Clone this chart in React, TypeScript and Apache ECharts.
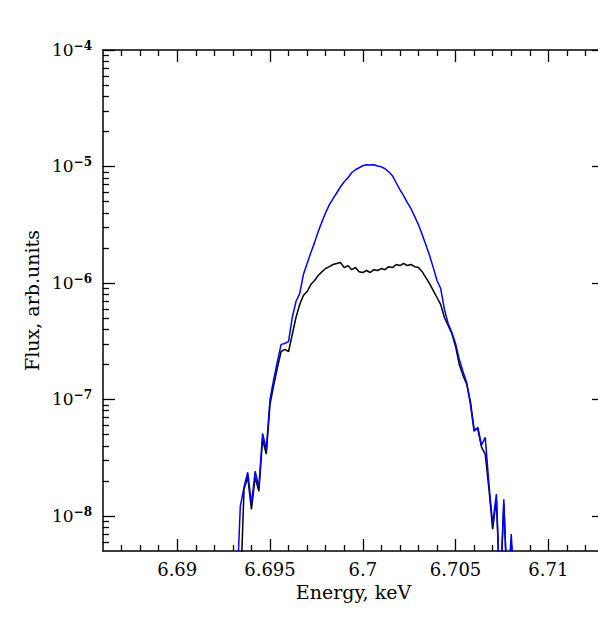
import React, { useEffect, useRef } from 'react';
import * as echarts from 'echarts';

const energies = [
  6.6932, 6.6934, 6.6936, 6.6938, 6.694, 6.6942, 6.6944, 6.6946, 6.6948, 6.695,
  6.6952, 6.6954, 6.6956, 6.6958, 6.696, 6.6962, 6.6964, 6.6966, 6.6968, 6.697,
  6.6972, 6.6974, 6.6976, 6.6978, 6.698, 6.6982, 6.6984, 6.6986, 6.6988, 6.699,
  6.6992, 6.6994, 6.6996, 6.6998, 6.7, 6.7002, 6.7004, 6.7006, 6.7008, 6.701,
  6.7012, 6.7014, 6.7016, 6.7018, 6.702, 6.7022, 6.7024, 6.7026, 6.7028, 6.703,
  6.7032, 6.7034, 6.7036, 6.7038, 6.704, 6.7042, 6.7044, 6.7046, 6.7048, 6.705,
  6.7052, 6.7054, 6.7056, 6.7058, 6.706, 6.7062, 6.7064, 6.7066, 6.7068, 6.707,
  6.7072, 6.7074, 6.7076, 6.7078, 6.708, 6.7082,
];

const fluxBlue = [
  2e-9, 1.21e-8, 1.77e-8, 2.37e-8, 1.26e-8, 2.42e-8, 1.77e-8, 5.12e-8, 3.74e-8, 1.0e-7,
  1.49e-7, 2.12e-7, 2.97e-7, 3.02e-7, 3.15e-7, 5.05e-7, 6.93e-7, 8.11e-7, 1.18e-6, 1.47e-6,
  1.82e-6, 2.22e-6, 2.76e-6, 3.36e-6, 4.01e-6, 4.70e-6, 5.29e-6, 5.95e-6, 6.70e-6, 7.39e-6,
  8.00e-6, 8.83e-6, 9.37e-6, 9.75e-6, 1.014e-5, 1.034e-5, 1.03e-5, 1.035e-5, 1.01e-5, 9.94e-6,
  9.56e-6, 9.01e-6, 8.32e-6, 7.25e-6, 6.32e-6, 5.61e-6, 4.89e-6, 4.34e-6, 3.71e-6, 3.17e-6,
  2.60e-6, 2.13e-6, 1.72e-6, 1.355e-6, 1.05e-6, 8.96e-7, 5.92e-7, 4.49e-7, 3.76e-7, 3.02e-7,
  2.21e-7, 1.74e-7, 1.40e-7, 9.08e-8, 5.33e-8, 5.77e-8, 4.04e-8, 4.73e-8, 1.87e-8, 8.51e-9,
  1.54e-8, 2e-9, 1.39e-8, 2e-9, 6.98e-9, 2e-9,
];

const fluxBlack = [
  2e-9, 2e-9, 1.70e-8, 2.15e-8, 1.14e-8, 2.15e-8, 1.63e-8, 4.55e-8, 3.39e-8, 9.08e-8,
  1.32e-7, 1.88e-7, 2.58e-7, 2.69e-7, 2.58e-7, 3.61e-7, 5.05e-7, 6.53e-7, 7.80e-7, 8.44e-7,
  9.69e-7, 1.05e-6, 1.16e-6, 1.25e-6, 1.33e-6, 1.38e-6, 1.44e-6, 1.47e-6, 1.50e-6, 1.355e-6,
  1.41e-6, 1.30e-6, 1.355e-6, 1.25e-6, 1.23e-6, 1.28e-6, 1.23e-6, 1.30e-6, 1.28e-6, 1.33e-6,
  1.30e-6, 1.38e-6, 1.355e-6, 1.44e-6, 1.41e-6, 1.47e-6, 1.41e-6, 1.44e-6, 1.38e-6, 1.355e-6,
  1.25e-6, 1.11e-6, 9.88e-7, 8.61e-7, 7.50e-7, 6.53e-7, 5.05e-7, 4.31e-7, 3.68e-7, 2.85e-7,
  2.00e-7, 1.61e-7, 1.35e-7, 9.63e-8, 5.54e-8, 5.54e-8, 3.89e-8, 3.39e-8, 1.70e-8, 7.71e-9,
  1.39e-8, 2e-9, 1.26e-8, 2e-9, 2e-9, 2e-9,
];

const xMajorTicks = [6.69, 6.695, 6.7, 6.705, 6.71];
const xTickLabels = ['6.69', '6.695', '6.7', '6.705', '6.71'];
const yMajorTicks = [1e-8, 1e-7, 1e-6, 1e-5, 1e-4];
const yTickExponents = ['\u22128', '\u22127', '\u22126', '\u22125', '\u22124'];

const X_MIN = 6.686;
const X_MAX = 6.713;
const Y_MIN = 5e-9;
const Y_MAX = 1e-4;

const FONT = "'DejaVu Serif', serif";

function buildXMinor(): number[] {
  const out: number[] = [];
  for (let i = 687; i <= 713; i++) {
    if (i % 5 === 0) continue;
    out.push(Math.round((6 + i / 1000) * 1e6) / 1e6);
  }
  return out;
}

function buildYMinor(): number[] {
  const out: number[] = [];
  for (let e = -9; e <= -5; e++) {
    for (let m = 2; m <= 9; m++) {
      const v = m * Math.pow(10, e);
      if (v > Y_MIN && v < Y_MAX) out.push(Number(v.toPrecision(3)));
    }
  }
  return out;
}

export default function App() {
  const ref = useRef<HTMLDivElement>(null);

  useEffect(() => {
    if (!ref.current) return;
    document.body.style.overflow = 'hidden';
    const chart = echarts.init(ref.current, undefined, { renderer: 'svg' });
    const xMinor = buildXMinor();
    const yMinor = buildYMinor();
    const lineCol = '#000';
    const gridBox = { left: 103, top: 50, width: 501, height: 501 };

    const xLabelFmt = (v: number) => {
      const i = xMajorTicks.findIndex((t) => Math.abs(t - v) < 1e-7);
      return i >= 0 ? xTickLabels[i] : '';
    };
    const yLabelFmt = (v: number) => {
      const e = Math.round(Math.log10(v));
      const i = yMajorTicks.findIndex((t) => Math.round(Math.log10(t)) === e);
      return i >= 0 ? `{b|10}{e|${yTickExponents[i]}}` : '';
    };

    const baseX = (grid: number, pos: 'top' | 'bottom', ticks: number[], len: number, labels: boolean, line: boolean) => ({
      gridIndex: grid,
      type: 'value',
      position: pos,
      min: X_MIN,
      max: X_MAX,
      axisLine: { show: line, onZero: false, lineStyle: { color: lineCol, width: 1.5 } },
      axisTick: { show: true, inside: true, length: len, customValues: ticks, lineStyle: { color: lineCol, width: 1.3 } },
      axisLabel: labels
        ? { show: true, customValues: xMajorTicks, formatter: xLabelFmt, color: '#000', fontFamily: FONT, fontSize: 18, margin: 9 }
        : { show: false },
      splitLine: { show: false },
    });

    const baseY = (grid: number, pos: 'left' | 'right', ticks: number[], len: number, labels: boolean, line: boolean) => ({
      gridIndex: grid,
      type: 'log',
      logBase: 10,
      position: pos,
      min: Y_MIN,
      max: Y_MAX,
      axisLine: { show: line, onZero: false, lineStyle: { color: lineCol, width: 1.5 } },
      axisTick: { show: true, inside: true, length: len, customValues: ticks, lineStyle: { color: lineCol, width: 1.3 } },
      axisLabel: labels
        ? {
            show: true,
            customValues: yMajorTicks,
            formatter: yLabelFmt,
            margin: 11,
            rich: {
              b: { fontFamily: FONT, fontSize: 17, color: '#000', lineHeight: 20 },
              e: { fontFamily: FONT, fontSize: 12, fontWeight: 'bold', color: '#000', verticalAlign: 'top', lineHeight: 12 },
            },
          }
        : { show: false },
      splitLine: { show: false },
    });

    const xMain: any = baseX(0, 'bottom', xMajorTicks, 12, true, true);
    xMain.name = 'Energy, keV';
    xMain.nameLocation = 'middle';
    xMain.nameGap = 31;
    xMain.nameTextStyle = { fontFamily: FONT, fontSize: 19, color: '#000' };

    const yMain: any = baseY(0, 'left', yMajorTicks, 12, true, true);
    yMain.name = 'Flux, arb.units';
    yMain.nameLocation = 'middle';
    yMain.nameGap = 59;
    yMain.nameTextStyle = { fontFamily: FONT, fontSize: 19, color: '#000' };

    const blueData = energies.map((e, i) => [e, fluxBlue[i]]);
    const blackData = energies.map((e, i) => [e, fluxBlack[i]]);

    chart.setOption({
      animation: false,
      backgroundColor: '#ffffff',
      grid: [{ ...gridBox }, { ...gridBox }],
      xAxis: [
        xMain,
        baseX(0, 'top', xMajorTicks, 12, false, true),
        baseX(1, 'bottom', xMinor, 6, false, false),
        baseX(1, 'top', xMinor, 6, false, false),
      ],
      yAxis: [
        yMain,
        baseY(0, 'right', yMajorTicks, 12, false, true),
        baseY(1, 'left', yMinor, 6, false, false),
        baseY(1, 'right', yMinor, 6, false, false),
      ],
      series: [
        {
          type: 'line',
          name: 'black',
          xAxisIndex: 0,
          yAxisIndex: 0,
          data: blackData,
          showSymbol: false,
          symbol: 'none',
          clip: true,
          lineStyle: { color: '#000000', width: 1.5 },
          silent: true,
        },
        {
          type: 'line',
          name: 'blue',
          xAxisIndex: 0,
          yAxisIndex: 0,
          data: blueData,
          showSymbol: false,
          symbol: 'none',
          clip: true,
          lineStyle: { color: '#0000ff', width: 1.5 },
          silent: true,
        },
      ],
    });

    return () => {
      chart.dispose();
    };
  }, []);

  return (
    <div
      ref={ref}
      style={{ position: 'fixed', left: 0, top: 0, width: 620, height: 640, background: '#fff' }}
    />
  );
}
